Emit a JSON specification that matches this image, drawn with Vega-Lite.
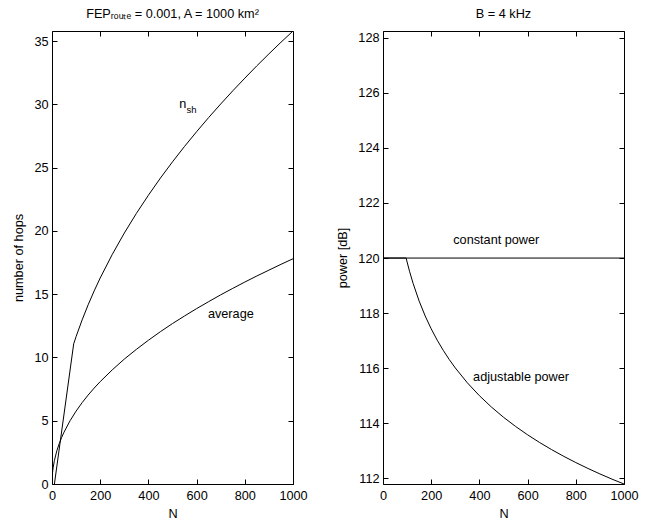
{
  "$schema": "https://vega.github.io/schema/vega-lite/v6.json",
  "padding": {"left": 12, "top": 7, "right": 5, "bottom": 5},
  "spacing": 90,
  "bounds": "flush",
  "config": {
    "font": "Liberation Sans",
    "background": "white",
    "view": {"stroke": "black", "strokeWidth": 1},
    "axis": {
      "grid": false,
      "domain": false,
      "tickColor": "black",
      "tickSize": -5,
      "tickWidth": 1,
      "labelPadding": 9,
      "labelFont": "Liberation Sans",
      "labelFontSize": 12.7,
      "labelColor": "black",
      "labelFlush": false,
      "labelOverlap": false,
      "titleFont": "Liberation Sans",
      "titleFontSize": 12.7,
      "titleFontWeight": "normal",
      "titleColor": "black",
      "titlePadding": 5
    },
    "axisY": {"titlePadding": 8},
    "axisX": {"titlePadding": 6, "format": "d", "labelPadding": 10},
    "title": {"font": "Liberation Sans", "fontSize": 12.7, "fontWeight": "normal", "color": "black", "baseline": "alphabetic", "offset": 10, "frame": "group"}
  },
  "hconcat": [
    {
      "width": 241,
      "height": 453,
      "title": {"text": "FEPᵣₒᵤₜₑ = 0.001, A = 1000 km²"},
      "data": {"values": [
        {"N": 10, "value": 0, "series": "nsh"},
        {"N": 90, "value": 11.08, "series": "nsh"},
        {"N": 100, "value": 11.65, "series": "nsh"},
        {"N": 125, "value": 12.97, "series": "nsh"},
        {"N": 150, "value": 14.16, "series": "nsh"},
        {"N": 175, "value": 15.26, "series": "nsh"},
        {"N": 200, "value": 16.28, "series": "nsh"},
        {"N": 250, "value": 18.14, "series": "nsh"},
        {"N": 300, "value": 19.83, "series": "nsh"},
        {"N": 350, "value": 21.38, "series": "nsh"},
        {"N": 400, "value": 22.82, "series": "nsh"},
        {"N": 450, "value": 24.18, "series": "nsh"},
        {"N": 500, "value": 25.46, "series": "nsh"},
        {"N": 550, "value": 26.68, "series": "nsh"},
        {"N": 600, "value": 27.84, "series": "nsh"},
        {"N": 650, "value": 28.96, "series": "nsh"},
        {"N": 700, "value": 30.03, "series": "nsh"},
        {"N": 750, "value": 31.07, "series": "nsh"},
        {"N": 800, "value": 32.07, "series": "nsh"},
        {"N": 850, "value": 33.05, "series": "nsh"},
        {"N": 900, "value": 33.99, "series": "nsh"},
        {"N": 950, "value": 34.91, "series": "nsh"},
        {"N": 1000, "value": 35.8, "series": "nsh"},
        {"N": 0, "value": 0, "series": "average"},
        {"N": 1, "value": 0.6, "series": "average"},
        {"N": 2, "value": 0.85, "series": "average"},
        {"N": 3, "value": 1.03, "series": "average"},
        {"N": 5, "value": 1.33, "series": "average"},
        {"N": 10, "value": 1.86, "series": "average"},
        {"N": 20, "value": 2.62, "series": "average"},
        {"N": 30, "value": 3.19, "series": "average"},
        {"N": 40, "value": 3.68, "series": "average"},
        {"N": 50, "value": 4.1, "series": "average"},
        {"N": 75, "value": 5.0, "series": "average"},
        {"N": 100, "value": 5.76, "series": "average"},
        {"N": 125, "value": 6.43, "series": "average"},
        {"N": 150, "value": 7.03, "series": "average"},
        {"N": 175, "value": 7.58, "series": "average"},
        {"N": 200, "value": 8.09, "series": "average"},
        {"N": 250, "value": 9.02, "series": "average"},
        {"N": 300, "value": 9.87, "series": "average"},
        {"N": 350, "value": 10.64, "series": "average"},
        {"N": 400, "value": 11.36, "series": "average"},
        {"N": 450, "value": 12.04, "series": "average"},
        {"N": 500, "value": 12.68, "series": "average"},
        {"N": 550, "value": 13.28, "series": "average"},
        {"N": 600, "value": 13.86, "series": "average"},
        {"N": 650, "value": 14.41, "series": "average"},
        {"N": 700, "value": 14.95, "series": "average"},
        {"N": 750, "value": 15.46, "series": "average"},
        {"N": 800, "value": 15.96, "series": "average"},
        {"N": 850, "value": 16.44, "series": "average"},
        {"N": 900, "value": 16.9, "series": "average"},
        {"N": 950, "value": 17.36, "series": "average"},
        {"N": 1000, "value": 17.8, "series": "average"}
      ]},
      "layer": [
        {
          "mark": {"type": "line", "color": "black", "strokeWidth": 1, "clip": true},
          "encoding": {
            "x": {"field": "N", "type": "quantitative", "scale": {"domain": [0, 1000], "nice": false},
                  "axis": {"orient": "bottom", "title": "N", "values": [0, 200, 400, 600, 800, 1000]}},
            "y": {"field": "value", "type": "quantitative", "scale": {"domain": [0, 35.8], "nice": false, "zero": false},
                  "axis": {"orient": "left", "title": "number of hops", "values": [0, 5, 10, 15, 20, 25, 30, 35]}},
            "detail": {"field": "series"}
          }
        },
        {
          "mark": {"type": "line", "opacity": 0},
          "encoding": {
            "x": {"field": "N", "type": "quantitative",
                  "axis": {"orient": "top", "title": null, "labels": false, "values": [0, 200, 400, 600, 800, 1000]}},
            "y": {"field": "value", "type": "quantitative",
                  "axis": {"orient": "right", "title": null, "labels": false, "values": [0, 5, 10, 15, 20, 25, 30, 35]}},
            "detail": {"field": "series"}
          }
        },
        {
          "data": {"values": [{"label": "average", "N": 742, "value": 13.4}]},
          "mark": {"type": "text", "fontSize": 12.7, "color": "black", "align": "center", "baseline": "middle"},
          "encoding": {"text": {"field": "label"}, "x": {"field": "N", "type": "quantitative", "axis": null}, "y": {"field": "value", "type": "quantitative", "axis": null}}
        },
        {
          "data": {"values": [{"label": "n", "N": 543, "value": 30.0}]},
          "mark": {"type": "text", "fontSize": 12.7, "color": "black", "align": "center", "baseline": "middle"},
          "encoding": {"text": {"field": "label"}, "x": {"field": "N", "type": "quantitative", "axis": null}, "y": {"field": "value", "type": "quantitative", "axis": null}}
        },
        {
          "data": {"values": [{"label": "sh", "N": 558, "value": 29.57}]},
          "mark": {"type": "text", "fontSize": 9.5, "color": "black", "align": "left", "baseline": "middle"},
          "encoding": {"text": {"field": "label"}, "x": {"field": "N", "type": "quantitative", "axis": null}, "y": {"field": "value", "type": "quantitative", "axis": null}}
        }
      ],
      "resolve": {"axis": {"x": "independent", "y": "independent"}}
    },
    {
      "width": 241,
      "height": 453,
      "title": {"text": "B = 4 kHz"},
      "data": {"values": [
        {"N": 0, "value": 120, "series": "constant"},
        {"N": 1000, "value": 120, "series": "constant"},
        {"N": 0, "value": 120, "series": "adjustable"},
        {"N": 96, "value": 120, "series": "adjustable"},
        {"N": 100, "value": 119.857, "series": "adjustable"},
        {"N": 110, "value": 119.523, "series": "adjustable"},
        {"N": 125, "value": 119.076, "series": "adjustable"},
        {"N": 150, "value": 118.438, "series": "adjustable"},
        {"N": 175, "value": 117.898, "series": "adjustable"},
        {"N": 200, "value": 117.431, "series": "adjustable"},
        {"N": 225, "value": 117.019, "series": "adjustable"},
        {"N": 250, "value": 116.65, "series": "adjustable"},
        {"N": 275, "value": 116.316, "series": "adjustable"},
        {"N": 300, "value": 116.012, "series": "adjustable"},
        {"N": 350, "value": 115.472, "series": "adjustable"},
        {"N": 400, "value": 115.005, "series": "adjustable"},
        {"N": 450, "value": 114.592, "series": "adjustable"},
        {"N": 500, "value": 114.223, "series": "adjustable"},
        {"N": 550, "value": 113.89, "series": "adjustable"},
        {"N": 600, "value": 113.585, "series": "adjustable"},
        {"N": 650, "value": 113.305, "series": "adjustable"},
        {"N": 700, "value": 113.046, "series": "adjustable"},
        {"N": 750, "value": 112.804, "series": "adjustable"},
        {"N": 800, "value": 112.578, "series": "adjustable"},
        {"N": 850, "value": 112.366, "series": "adjustable"},
        {"N": 900, "value": 112.166, "series": "adjustable"},
        {"N": 950, "value": 111.977, "series": "adjustable"},
        {"N": 1000, "value": 111.8, "series": "adjustable"}
      ]},
      "layer": [
        {
          "mark": {"type": "line", "color": "black", "strokeWidth": 1, "clip": true},
          "encoding": {
            "x": {"field": "N", "type": "quantitative", "scale": {"domain": [0, 1000], "nice": false},
                  "axis": {"orient": "bottom", "title": "N", "values": [0, 200, 400, 600, 800, 1000]}},
            "y": {"field": "value", "type": "quantitative", "scale": {"domain": [111.8, 128.24], "nice": false, "zero": false},
                  "axis": {"orient": "left", "title": "power [dB]", "values": [112, 114, 116, 118, 120, 122, 124, 126, 128]}},
            "detail": {"field": "series"}
          }
        },
        {
          "mark": {"type": "line", "opacity": 0},
          "encoding": {
            "x": {"field": "N", "type": "quantitative",
                  "axis": {"orient": "top", "title": null, "labels": false, "values": [0, 200, 400, 600, 800, 1000]}},
            "y": {"field": "value", "type": "quantitative",
                  "axis": {"orient": "right", "title": null, "labels": false, "values": [112, 114, 116, 118, 120, 122, 124, 126, 128]}},
            "detail": {"field": "series"}
          }
        },
        {
          "data": {"values": [{"label": "constant power", "N": 470, "value": 120.64}]},
          "mark": {"type": "text", "fontSize": 12.7, "color": "black", "align": "center", "baseline": "middle"},
          "encoding": {"text": {"field": "label"}, "x": {"field": "N", "type": "quantitative", "axis": null}, "y": {"field": "value", "type": "quantitative", "axis": null}}
        },
        {
          "data": {"values": [{"label": "adjustable power", "N": 573, "value": 115.7}]},
          "mark": {"type": "text", "fontSize": 12.7, "color": "black", "align": "center", "baseline": "middle"},
          "encoding": {"text": {"field": "label"}, "x": {"field": "N", "type": "quantitative", "axis": null}, "y": {"field": "value", "type": "quantitative", "axis": null}}
        }
      ],
      "resolve": {"axis": {"x": "independent", "y": "independent"}}
    }
  ]
}
